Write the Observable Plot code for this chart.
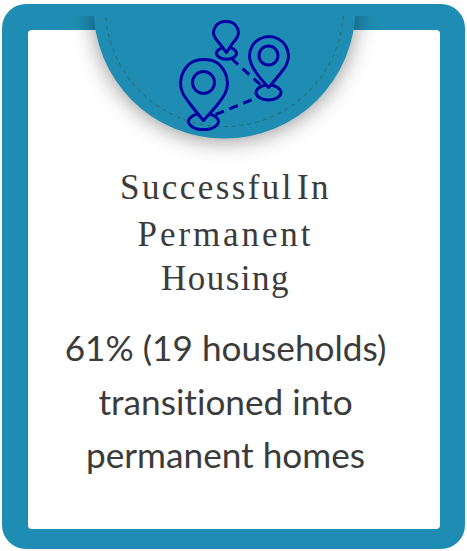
<!DOCTYPE html>
<html>
<head>
<meta charset="utf-8">
<script src="https://cdn.jsdelivr.net/npm/d3@7"></script>
<script src="https://cdn.jsdelivr.net/npm/@observablehq/plot@0.6"></script>
<style>
html,body{margin:0;padding:0;background:#fff;}
.disc circle{filter:drop-shadow(0 2px 11px rgba(0,0,0,.42));}
.h0 text{letter-spacing:2.4px;word-spacing:-8px;}
.h1 text{letter-spacing:2.9px;}
.h2 text{letter-spacing:1.5px;}
.body text{font-variant-ligatures:none;}
</style>
</head>
<body>
<div id="chart"></div>
<script>
const percent = 61;
const households = 19;
const headingLines = ["Successful In", "Permanent", "Housing"];
const bodyLines = [`${percent}% (${households} households)`, "transitioned into", "permanent homes"];

const BLUE = "#1f8db3";
const PIN = "#0000a0";

const pinOutlines = {
  large: [[203,120],[190,104],[182,92],[180,82],[183,71],[191,62],[203.5,59],[216,62],[224,71],[227,82],[225,92],[217,104],[203,120]],
  middle: [[268,87],[257,74],[251,64],[249,55],[252,45],[259,38.5],[268.5,36],[278,38.5],[285,45],[288,55],[286,64],[279,74],[268,87]],
  small: [[226,52],[219,43],[214.5,37],[213,32],[215,26],[219.5,22],[225.5,21],[231.5,22],[236,26],[238,32],[236.5,37],[232,43],[226,52]]
};
const pinBases = {
  large: [[218,121],[213.6,126.7],[203,129],[192.4,126.7],[188,121],[192.4,115.3],[203,113],[213.6,115.3]],
  middle: [[280.5,92],[276.8,97.3],[268,99.5],[259.2,97.3],[255.5,92],[259.2,86.7],[268,84.5],[276.8,86.7]],
  small: [[236,52.7],[233,57],[226,58.7],[219,57],[216,52.7],[219,48.4],[226,46.7],[233,48.4]]
};
const routes = [{x1:215,y1:114,x2:257,y2:97},{x1:231,y1:58,x2:262,y2:86}];

const flat = o => Object.entries(o).flatMap(([id, pts]) => pts.map(([x, y]) => ({id, x, y})));
const R = (x1, y1, x2, y2, opts) => Plot.rect([{x1, y1, x2, y2}], {x1:"x1", y1:"y1", x2:"x2", y2:"y2", ...opts});
const at = (t, y) => [{t, x: 225, y}];
const head = (i, y) => Plot.text(at(headingLines[i], y), {x:"x",y:"y",text:"t",lineAnchor:"bottom",fontFamily:"Liberation Serif",fontSize:35,fill:"#3b3b3b",className:"h"+i});
const body = (i, y) => Plot.text(at(bodyLines[i], y), {x:"x",y:"y",text:"t",lineAnchor:"bottom",fontFamily:"Lato",fontSize:35.2,fill:"#3b3b3b",className:"body"});
const disc = (r, opts) => Plot.dot([{x:224,y:7}], {x:"x",y:"y",r,...opts});
const eye = (x, y, r) => Plot.dot([{x,y}], {x:"x",y:"y",r,stroke:PIN,strokeWidth:3,fill:"none"});

const plot = Plot.plot({
  width: 467, height: 551, margin: 0,
  x: {domain:[0,467], range:[0,467], axis:null},
  y: {domain:[0,551], range:[0,551], axis:null},
  style: {background:"transparent"},
  marks: [
    R(2,4,465,549,{fill:BLUE,rx:24}),
    R(28,30,440,529,{fill:"#fff",rx:4}),
    disc(131,{fill:BLUE,className:"disc"}),
    disc(119,{fill:"none",stroke:"#2b6f74",strokeWidth:1.1,strokeDasharray:"4 4"}),
    R(40,4,420,16,{fill:BLUE}),
    R(40,0,420,4,{fill:"#fff"}),
    Plot.link(routes, {x1:"x1",y1:"y1",x2:"x2",y2:"y2",stroke:PIN,strokeWidth:3,strokeDasharray:"9 6"}),
    Plot.line(flat(pinBases), {x:"x",y:"y",z:"id",curve:"catmull-rom-closed",stroke:PIN,strokeWidth:3,fill:"none"}),
    Plot.line(flat(pinOutlines), {x:"x",y:"y",z:"id",curve:"catmull-rom",stroke:PIN,strokeWidth:3,fill:BLUE}),
    eye(203,82,11), eye(268,55,9.5),
    head(0,198), head(1,245), head(2,289.5),
    body(0,360), body(1,414), body(2,467)
  ]
});
document.getElementById("chart").appendChild(plot);
</script>
</body>
</html>
